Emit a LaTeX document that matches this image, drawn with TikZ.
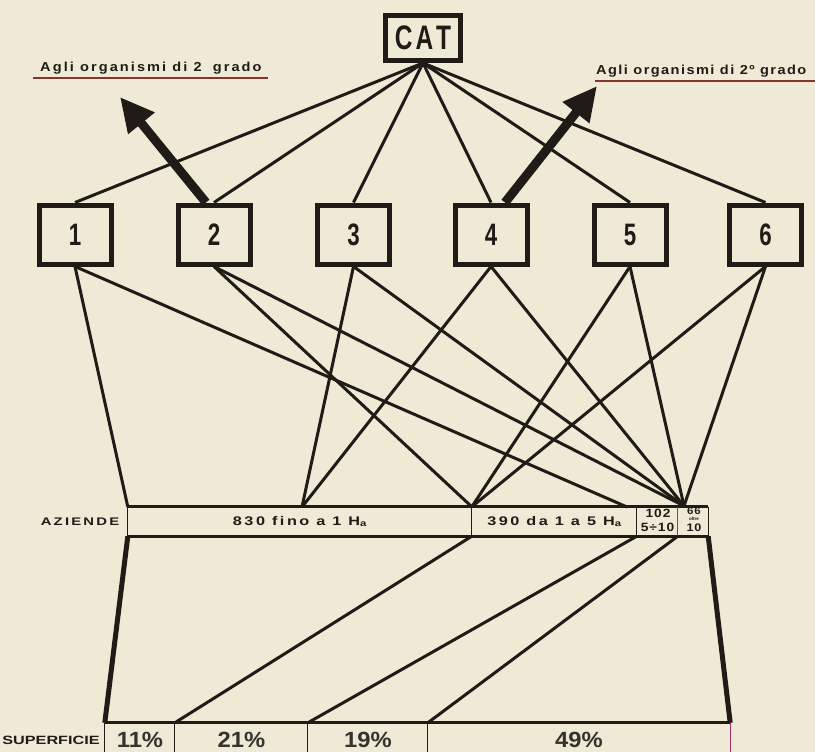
\documentclass[tikz,border=0pt]{standalone}
\usepackage{fontspec}
\setmainfont{Liberation Sans}
\newfontfamily\condfont[FakeStretch=0.72]{Liberation Sans}
\newfontfamily\lblfont[LetterSpace=16,FakeStretch=1.12]{Liberation Sans}
\newfontfamily\lblfontb[LetterSpace=11,FakeStretch=1.12]{Liberation Sans}
\newfontfamily\azfont[LetterSpace=20,FakeStretch=1.35]{Liberation Sans}
\newfontfamily\rowfont[LetterSpace=20,FakeStretch=1.3]{Liberation Sans}
\newfontfamily\cellfont[LetterSpace=8,FakeStretch=1.15]{Liberation Sans}
\newfontfamily\pctfont[FakeStretch=1.08]{Liberation Sans}
\newfontfamily\widefont[FakeStretch=1.35]{Liberation Sans}
\usetikzlibrary{arrows.meta}
\definecolor{paper}{RGB}{239,234,214}
\definecolor{ink}{RGB}{32,27,22}
\definecolor{rust}{RGB}{130,55,45}
\definecolor{mag}{RGB}{165,45,105}
\begin{document}
\begin{tikzpicture}[x=1pt,y=-1pt,
  conn/.style={draw=ink,line width=3pt},
  heavyconn/.style={draw=ink,line width=5pt},
  bigarrow/.style={draw=ink,line width=9pt,-{Triangle[length=34pt,width=32pt]}},
  numbox/.style={draw=ink,fill=paper,line width=5pt,minimum width=72pt,minimum height=59pt,inner sep=0pt,text=ink,font=\condfont\bfseries\fontsize{31}{31}\selectfont},
  catbox/.style={draw=ink,fill=paper,line width=5pt,minimum width=75pt,minimum height=45pt,inner sep=0pt,text=ink,font=\condfont\bfseries\fontsize{34}{34}\selectfont},
  head/.style={text=ink,font=\lblfont\bfseries\fontsize{13}{13}\selectfont,inner sep=0pt,anchor=base west},
  cell/.style={inner sep=0pt,minimum height=29pt,text=ink,font=\rowfont\bfseries\fontsize{12.5}{12.5}\selectfont},
  pcell/.style={inner sep=0pt,minimum height=34pt,text=ink!90,font=\pctfont\bfseries\fontsize{22}{22}\selectfont},
  rowlabel/.style={inner sep=0pt,text=ink},
  small/.style={inner sep=0pt,text=ink,font=\cellfont\bfseries\fontsize{12}{12}\selectfont},
  thinrule/.style={draw=ink,line width=1.3pt},
  thickrule/.style={draw=ink,line width=3pt}
]
\fill[paper] (0,0) rectangle (815,752);
\useasboundingbox (0,0) rectangle (815,752);

% headings
\node[head] (lbl1) at (40,72) {Agli organismi di 2\hspace{5pt} grado};
\draw[rust,line width=1.5pt] (33,78) -- (268,78);
\node[head,font=\lblfontb\bfseries\fontsize{13}{13}\selectfont] (lbl2) at (596,75) {Agli organismi di 2º grado};
\draw[rust,line width=1.5pt] (595,81) -- (815,81);

% boxes
\node[catbox] (cat) at (423,38) {C\hspace{3pt}A\hspace{3pt}T};
\node[numbox] (b1) at (75,234.5) {1};
\node[numbox] (b2) at (214,234.5) {2};
\node[numbox] (b3) at (353.5,234.5) {3};
\node[numbox] (b4) at (491,234.5) {4};
\node[numbox] (b5) at (630,234.5) {5};
\node[numbox] (b6) at (765.5,234.5) {6};

% AZIENDE row
\node[rowlabel,font=\azfont\bfseries\fontsize{11}{11}\selectfont] (azl) at (80,521.5) {AZIENDE};
\node[cell,minimum width=344pt] (az1) at (300,521.5) {830 fino a 1 H\textsubscript{a}};
\node[cell,minimum width=165pt] (az2) at (554.5,521.5) {390 da 1 a 5 H\textsubscript{a}};
\node[cell,minimum width=41pt] (az3) at (657.5,521.5) {};
\node[cell,minimum width=30pt] (az4) at (693,521.5) {};
\node[small] (t102) at (658,513.5) {102};
\node[small] (t510) at (657.5,527.5) {5÷10};
\node[small,font=\cellfont\bfseries\fontsize{10}{10}\selectfont] (t66) at (694,511.5) {66};
\node[small,font=\bfseries\fontsize{4.5}{4.5}\selectfont] (toltre) at (694,518.5) {oltre};
\node[small,font=\cellfont\bfseries\fontsize{11}{11}\selectfont] (t10) at (694,527.5) {10};
\draw[thickrule] (az1.north west) -- (az4.north east);
\draw[thickrule] (az1.south west) -- (az4.south east);
\draw[thinrule] (az1.north west) -- (az1.south west);
\draw[thinrule] (az2.north west) -- (az2.south west);
\draw[thinrule] (az3.north west) -- (az3.south west);
\draw[mag,line width=1.3pt] (az4.north west) -- (az4.south west);
\draw[thinrule] (az4.north east) -- (az4.south east);

% SUPERFICIE row
\node[rowlabel,font=\widefont\bfseries\fontsize{12}{12}\selectfont] (sul) at (51,740) {SUPERFICIE};
\node[pcell,minimum width=70pt] (s1) at (140,740) {11\%};
\node[pcell,minimum width=133pt] (s2) at (241.5,740) {21\%};
\node[pcell,minimum width=120pt] (s3) at (368,740) {19\%};
\node[pcell,minimum width=302pt] (s4) at (579,740) {49\%};
\draw[thickrule] (s1.north west) -- (s4.north east);
\draw[thinrule] (s1.north west) -- (s1.south west);
\draw[thinrule] (s2.north west) -- (s2.south west);
\draw[thinrule] (s3.north west) -- (s3.south west);
\draw[thinrule] (s4.north west) -- (s4.south west);
\draw[mag,line width=1.3pt] (s4.north east) -- (s4.south east);

% meeting points on the AZIENDE row
\coordinate (P2) at (302,507);
\coordinate (P4) at (627,507);
\coordinate (P5) at (684,506);

% CAT to boxes
\foreach \b in {b1,b2,b3,b4,b5,b6} \draw[conn] (cat.south) -- (\b.north);

% boxes to AZIENDE
\draw[conn] (b1.south) -- (az1.north west);
\draw[conn] (b1.south) -- (P4);
\draw[conn] (b2.south) -- (az2.north west);
\draw[conn] (b2.south) -- (P5);
\draw[conn] (b3.south) -- (P2);
\draw[conn] (b3.south) -- (P5);
\draw[conn] (b4.south) -- (P2);
\draw[conn] (b4.south) -- (P5);
\draw[conn] (b5.south) -- (az2.north west);
\draw[conn] (b5.south) -- (P5);
\draw[conn] (b6.south) -- (az2.north west);
\draw[conn] (b6.south) -- (P5);

% AZIENDE to SUPERFICIE
\draw[heavyconn] (az1.south west) -- (s1.north west);
\draw[conn] (az2.south west) -- (s2.north west);
\draw[conn] (az3.south west) -- (s3.north west);
\draw[conn] (az4.south west) -- (s4.north west);
\draw[heavyconn] (az4.south east) -- (s4.north east);

% big arrows
\coordinate (tip1) at (120,97);
\coordinate (tip2) at (597,86);
\draw[bigarrow] ([xshift=-8pt]b2.north) -- (tip1);
\draw[bigarrow] ([xshift=14pt]b4.north) -- (tip2);
\end{tikzpicture}
\end{document}
